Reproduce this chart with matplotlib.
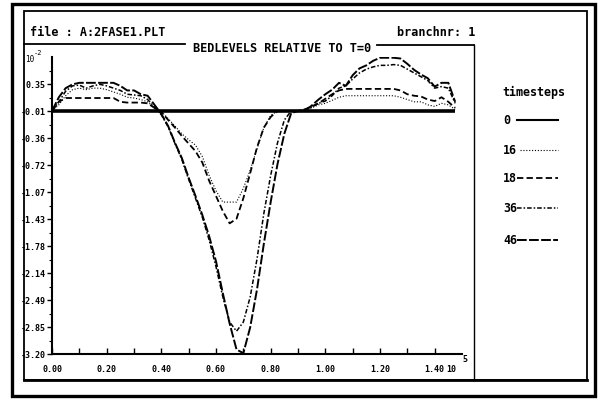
import numpy as np
import matplotlib
matplotlib.use("Agg")
import matplotlib.pyplot as plt
from matplotlib.patches import Rectangle
from matplotlib.lines import Line2D

# chainage along the branch (x 10^5 m)
chainage = np.round(np.arange(60) * 0.025, 3)

# bed level change relative to T=0 (x 10^-2 m)
bed_t0 = np.zeros(60)
bed_t16 = [0.00, 0.08, 0.20, 0.28, 0.30, 0.28, 0.30, 0.30, 0.28, 0.25,
           0.22, 0.18, 0.17, 0.15, 0.12, 0.04, -0.01, -0.10, -0.20, -0.30,
           -0.38, -0.45, -0.60, -0.85, -1.05, -1.20, -1.20, -1.20, -1.02, -0.78,
           -0.50, -0.22, -0.06, 0.00, 0.00, 0.00, 0.00, 0.01, 0.04, 0.08,
           0.10, 0.14, 0.18, 0.20, 0.20, 0.20, 0.20, 0.20, 0.20, 0.20,
           0.20, 0.18, 0.15, 0.12, 0.12, 0.08, 0.06, 0.10, 0.08, 0.02]
bed_t18 = [0.00, 0.12, 0.17, 0.17, 0.17, 0.17, 0.17, 0.17, 0.17, 0.17,
           0.12, 0.11, 0.11, 0.11, 0.10, 0.04, -0.01, -0.12, -0.22, -0.33,
           -0.43, -0.53, -0.68, -0.92, -1.12, -1.32, -1.48, -1.42, -1.15, -0.82,
           -0.48, -0.22, -0.08, 0.00, 0.00, 0.00, 0.00, 0.02, 0.06, 0.10,
           0.16, 0.22, 0.27, 0.29, 0.29, 0.29, 0.29, 0.29, 0.29, 0.29,
           0.29, 0.27, 0.22, 0.20, 0.19, 0.15, 0.13, 0.18, 0.12, 0.04]
bed_t36 = [0.00, 0.12, 0.26, 0.33, 0.34, 0.30, 0.33, 0.35, 0.33, 0.30,
           0.27, 0.22, 0.21, 0.20, 0.15, 0.05, -0.05, -0.21, -0.43, -0.64,
           -0.90, -1.15, -1.40, -1.70, -2.05, -2.45, -2.78, -2.90, -2.78, -2.45,
           -1.95, -1.35, -0.85, -0.42, -0.12, 0.00, 0.00, 0.02, 0.05, 0.10,
           0.13, 0.20, 0.30, 0.33, 0.42, 0.50, 0.55, 0.58, 0.60, 0.60,
           0.61, 0.60, 0.55, 0.50, 0.45, 0.40, 0.30, 0.32, 0.30, 0.10]
bed_t46 = [0.00, 0.18, 0.30, 0.35, 0.37, 0.37, 0.37, 0.37, 0.37, 0.37,
           0.33, 0.27, 0.27, 0.22, 0.20, 0.08, -0.04, -0.20, -0.42, -0.62,
           -0.88, -1.12, -1.37, -1.65, -1.98, -2.40, -2.80, -3.14, -3.19, -2.85,
           -2.35, -1.75, -1.20, -0.70, -0.30, -0.03, 0.00, 0.00, 0.07, 0.15,
           0.22, 0.28, 0.37, 0.33, 0.47, 0.56, 0.60, 0.66, 0.70, 0.70,
           0.70, 0.69, 0.62, 0.54, 0.48, 0.43, 0.32, 0.37, 0.37, 0.12]

timestep_labels = ["0", "16", "18", "36", "46"]

y_tick_values = [-3.20, -2.845, -2.49, -2.135, -1.78, -1.425, -1.07, -0.715,
                 -0.36, -0.005, 0.35]
y_tick_labels = ["-3.20", "-2.85", "-2.49", "-2.14", "-1.78", "-1.43", "-1.07",
                 "-0.72", "-0.36", "-0.01", "0.35"]
x_tick_values = [0.0, 0.2, 0.4, 0.6, 0.8, 1.0, 1.2, 1.4]
x_tick_labels = ["0.00", "0.20", "0.40", "0.60", "0.80", "1.00", "1.20", "1.40"]

MONO = "DejaVu Sans Mono"
W, H = 601, 400


def fx(px):
    return px / W


def fy(py):
    return 1 - py / H


fig = plt.figure(figsize=(6.01, 4.00), dpi=100)
fig.patch.set_facecolor("white")


def hline(y, x0, x1, lw):
    fig.add_artist(Line2D([fx(x0), fx(x1)], [fy(y), fy(y)], color="black",
                          lw=lw, transform=fig.transFigure))


def vline(x, y0, y1, lw):
    fig.add_artist(Line2D([fx(x), fx(x)], [fy(y0), fy(y1)], color="black",
                          lw=lw, transform=fig.transFigure))


# page frames
fig.add_artist(Rectangle((fx(12), fy(396)), fx(595) - fx(12), (396 - 4) / H,
                         fill=False, lw=2.4, ec="black", transform=fig.transFigure))
fig.add_artist(Rectangle((fx(24), fy(380)), fx(587) - fx(24), (380 - 11) / H,
                         fill=False, lw=1.3, ec="black", transform=fig.transFigure))
hline(380, 24, 587, 2.0)
hline(44, 24, 185, 1.3)
hline(45, 377, 474, 1.3)
vline(474, 45, 380, 1.0)

# header texts
fig.text(fx(30), fy(33), "file : A:2FASE1.PLT", family=MONO, weight="bold",
         fontsize=8.5, va="center", ha="left")
fig.text(fx(193), fy(48), "BEDLEVELS RELATIVE TO T=0", family=MONO,
         weight="bold", fontsize=8.6, va="center", ha="left")
fig.text(fx(397), fy(33), "branchnr: 1", family=MONO, weight="bold",
         fontsize=8.5, va="center", ha="left")

# plot area
ax = fig.add_axes([fx(52), fy(354), fx(462) - fx(52), (354 - 57) / H])
ax.set_facecolor("white")
for side in ("top", "right"):
    ax.spines[side].set_visible(False)
for side in ("left", "bottom"):
    ax.spines[side].set_linewidth(1.5)

ax.plot(chainage, bed_t0, color="black", lw=2.6, solid_capstyle="butt")
ax.plot(chainage, bed_t16, color="black", lw=0.8, linestyle=(0, (1, 1.6)))
ax.plot(chainage, bed_t18, color="black", lw=1.3, linestyle=(0, (3.5, 1.8)))
ax.plot(chainage, bed_t36, color="black", lw=1.1,
        linestyle=(0, (3, 1.3, 1, 1.3)))
ax.plot(chainage, bed_t46, color="black", lw=1.4, linestyle=(0, (5, 1.2)))

ax.set_xlim(0, 1.5)
ax.set_ylim(-3.20, 0.71)

ax.set_yticks(y_tick_values)
ax.set_yticklabels(y_tick_labels)
ax.set_yticks([v + 0.1775 for v in y_tick_values], minor=True)
ax.set_xticks(x_tick_values)
ax.set_xticklabels(x_tick_labels)
ax.set_xticks([0.1, 0.3, 0.5, 0.7, 0.9, 1.1, 1.3], minor=True)

ax.tick_params(axis="y", which="major", direction="out", length=3.5, width=1,
               pad=1, labelsize=6)
ax.tick_params(axis="y", which="minor", direction="out", length=2, width=0.8)
ax.tick_params(axis="x", which="both", direction="in", length=4, width=1,
               pad=8, labelsize=6)
for lab in ax.get_xticklabels() + ax.get_yticklabels():
    lab.set_family(MONO)
    lab.set_weight("bold")

# axis scale factors
fig.text(fx(25), fy(60), "10", family=MONO, fontsize=5.5, va="center", ha="left")
fig.text(fx(33.5), fy(53), "-2", family=MONO, fontsize=5, va="center", ha="left")
fig.text(fx(446), fy(369), "10", family=MONO, weight="bold", fontsize=6,
         va="center", ha="left")
fig.text(fx(462), fy(360), "5", family=MONO, weight="bold", fontsize=6,
         va="center", ha="left")

# timestep key
fig.text(fx(502), fy(92), "timesteps", family=MONO, weight="bold",
         fontsize=8.4, va="center", ha="left")
key_rows = [120, 150, 178, 208, 240]
key_styles = [
    dict(lw=1.5, linestyle="-"),
    dict(lw=0.8, linestyle=(0, (1, 1.6))),
    dict(lw=1.3, linestyle=(0, (3.5, 1.8))),
    dict(lw=1.1, linestyle=(0, (3, 1.3, 1, 1.3))),
    dict(lw=1.4, linestyle=(0, (5, 1.2))),
]
key_starts = [517, 520, 517, 517, 517]
for label, row, style, x0 in zip(timestep_labels, key_rows, key_styles, key_starts):
    fig.text(fx(503), fy(row), label, family=MONO, weight="bold", fontsize=8.4,
             va="center", ha="left")
    fig.add_artist(Line2D([fx(x0), fx(558)], [fy(row), fy(row)], color="black",
                          transform=fig.transFigure, **style))

fig.savefig("out.png", dpi=100)
